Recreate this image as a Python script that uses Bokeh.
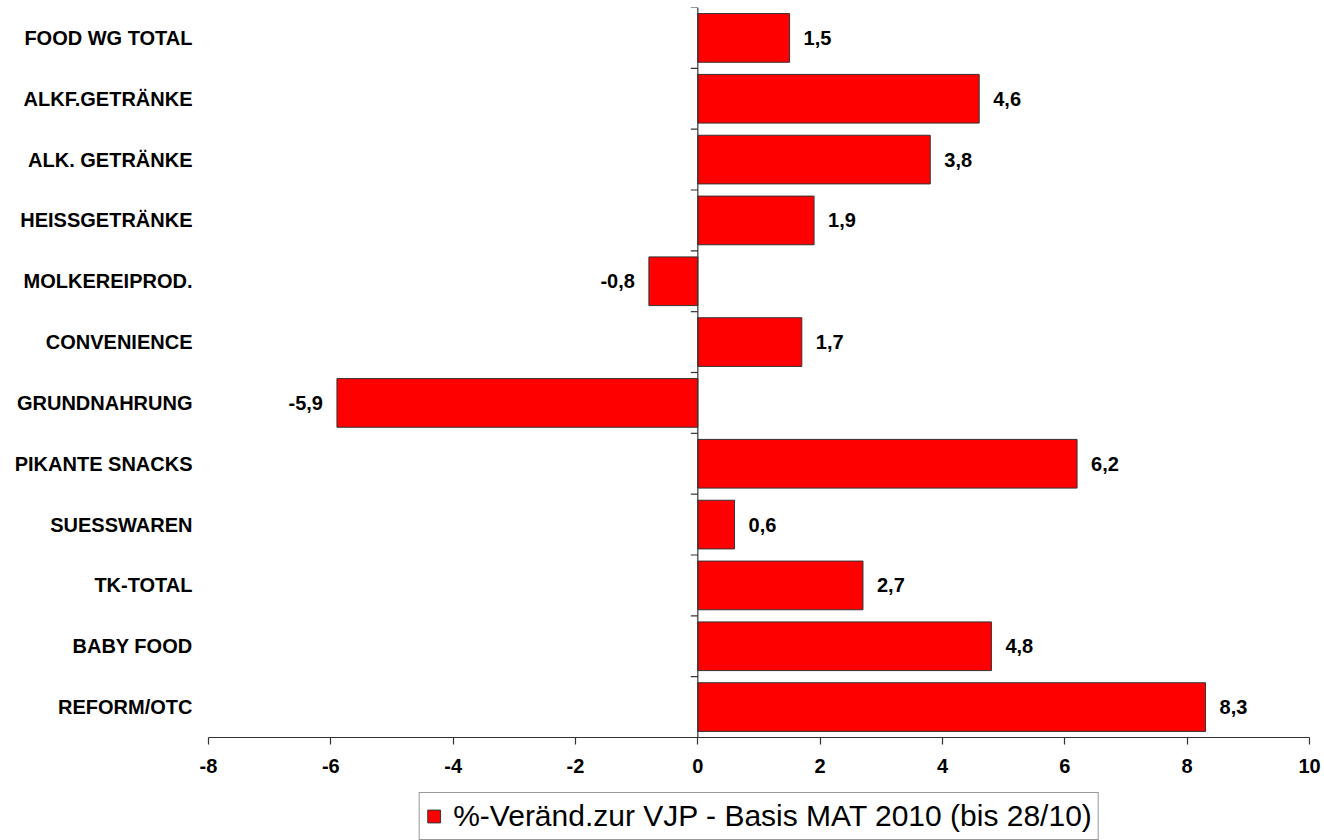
from bokeh.plotting import figure
from bokeh.layouts import column
from bokeh.models import (ColumnDataSource, FixedTicker, Span, Legend, LegendItem,
                          LinearAxis, Range1d, PrintfTickFormatter)
from bokeh.embed import file_html
from bokeh.resources import INLINE
from bokeh.core.properties import value

categories = ["FOOD WG TOTAL", "ALKF.GETRÄNKE", "ALK. GETRÄNKE", "HEISSGETRÄNKE",
              "MOLKEREIPROD.", "CONVENIENCE", "GRUNDNAHRUNG", "PIKANTE SNACKS",
              "SUESSWAREN", "TK-TOTAL", "BABY FOOD", "REFORM/OTC"]
values = [1.5, 4.6, 3.8, 1.9, -0.8, 1.7, -5.9, 6.2, 0.6, 2.7, 4.8, 8.3]
x_ticks = [-8, -6, -4, -2, 0, 2, 4, 6, 8, 10]
legend_label = "%-Veränd.zur VJP - Basis MAT 2010 (bis 28/10)"

n = len(categories)
ypos = [n - 0.5 - i for i in range(n)]
labels = [f"{v:.1f}".replace(".", ",") for v in values]
FONT = "Liberation Sans"
BAR_FILL = "#FF0000"
EDGE = "#333333"

src = ColumnDataSource(dict(y=ypos, v=values, lab=labels,
                            align=["left" if v >= 0 else "right" for v in values],
                            off=[14 if v >= 0 else -14 for v in values]))

p = figure(width=1324, height=792, output_backend="svg", toolbar_location=None,
           x_range=Range1d(x_ticks[0], x_ticks[-1]), y_range=Range1d(0, n),
           min_border_left=208, min_border_right=15, min_border_top=7,
           min_border_bottom=55, y_axis_location=None)
p.outline_line_color = None
p.xgrid.visible = False
p.ygrid.visible = False
p.background_fill_color = "white"

bars = p.hbar(y="y", left=0, right="v", height=0.8, source=src,
              fill_color=BAR_FILL, line_color=EDGE, line_width=1)

# zero line with category-boundary ticks
p.add_layout(Span(location=0, dimension="height", line_color=EDGE, line_width=1.2))
tick_len = 7 * (x_ticks[-1] - x_ticks[0]) / 1101
bounds = list(range(n + 1))
p.segment(x0=[-tick_len] * len(bounds), x1=[0] * len(bounds), y0=bounds, y1=bounds,
          line_color=EDGE, line_width=1.2)

p.text(x="v", y="y", text="lab", source=src, x_offset="off", text_align="align",
       text_baseline="middle", text_font=value(FONT), text_font_size="20px",
       text_font_style="bold", text_color="black")

# category axis
yax = LinearAxis(ticker=FixedTicker(ticks=ypos),
                 major_label_overrides={y: c for y, c in zip(ypos, categories)})
yax.axis_line_color = None
yax.major_tick_line_color = None
yax.minor_tick_line_color = None
yax.major_tick_out = 0
yax.major_tick_in = 0
yax.major_label_standoff = 16
yax.major_label_text_font = FONT
yax.major_label_text_font_size = "20px"
yax.major_label_text_font_style = "bold"
yax.major_label_text_color = "black"
p.add_layout(yax, "left")

xax = p.xaxis[0]
xax.ticker = FixedTicker(ticks=x_ticks)
xax.formatter = PrintfTickFormatter(format="%d")
xax.axis_line_color = EDGE
xax.axis_line_width = 1.2
xax.major_tick_line_color = EDGE
xax.major_tick_line_width = 1.2
xax.major_tick_out = 7
xax.major_tick_in = 0
xax.minor_tick_line_color = None
xax.major_label_standoff = 14
xax.major_label_text_font = FONT
xax.major_label_text_font_size = "20px"
xax.major_label_text_font_style = "bold"
xax.major_label_text_color = "black"

# legend strip below the chart (its key renderer lies far outside this strip's view)
p2 = figure(width=1324, height=48, output_backend="svg", toolbar_location=None,
            x_range=Range1d(1000, 1001), y_range=Range1d(1000, 1001),
            min_border_left=208, min_border_right=15, min_border_top=0,
            min_border_bottom=0, x_axis_location=None, y_axis_location=None)
p2.outline_line_color = None
p2.xgrid.visible = False
p2.ygrid.visible = False
key = p2.hbar(y="y", left=0, right="v", height=0.8, source=src,
              fill_color=BAR_FILL, line_color=EDGE, line_width=1)

legend = Legend(items=[LegendItem(label=legend_label, renderers=[key], index=0)],
                location="center", orientation="horizontal")
legend.label_text_font = FONT
legend.label_text_font_size = "30px"
legend.label_text_color = "black"
legend.glyph_width = 16
legend.glyph_height = 16
legend.label_standoff = 12
legend.padding = 6
legend.margin = 0
legend.border_line_color = EDGE
legend.border_line_width = 1
legend.background_fill_alpha = 1
p2.add_layout(legend, "center")

layout = column(p, p2, spacing=0)
open("out.html", "w").write(file_html(layout, INLINE))
